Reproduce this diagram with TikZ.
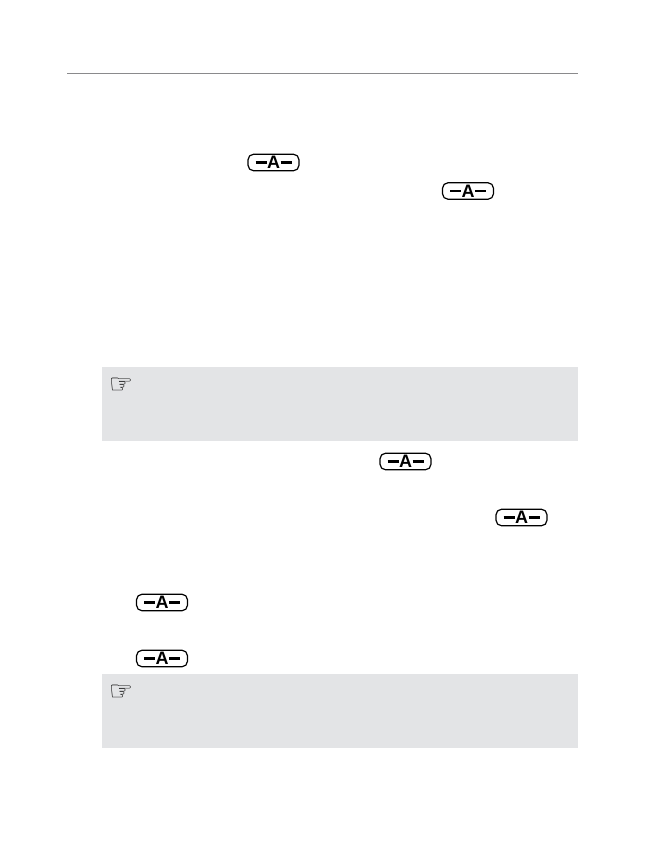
\documentclass[tikz,border=0pt]{standalone}
\usepackage{fontspec}
\setsansfont{Liberation Sans}
\newfontfamily\symbolfont{DejaVu Sans}
\definecolor{notegray}{HTML}{E3E4E6}
\definecolor{rulegray}{HTML}{8A8A8C}
\begin{document}
\begin{tikzpicture}[
        x=1pt, y=-1pt,
        key button/.style={draw, very thick, rounded corners=5.5pt, minimum width=51pt, minimum height=16.5pt, inner sep=0pt, font=\sffamily\bfseries\fontsize{18}{18}\selectfont,
            path picture={
                \draw[line width=2.6pt] ([xshift=7.5pt]path picture bounding box.west) -- ([xshift=-7pt]path picture bounding box.center);
                \draw[line width=2.6pt] ([xshift=7pt]path picture bounding box.center) -- ([xshift=-7.5pt]path picture bounding box.east);
            }},
        note box/.style={fill=notegray, draw=none, inner sep=0pt, minimum width=476pt, minimum height=74pt, anchor=north west},
        note hand/.style={inner sep=0pt, font=\symbolfont\fontsize{27}{27}\selectfont}
    ]
	\useasboundingbox (0,0) rectangle (647,846);
	\coordinate (rule_a) at (67,73);
	\coordinate (rule_b) at (578,73);
	\draw[rulegray, line width=1pt] (rule_a) -- (rule_b);

	\node[note box] (note_1) at (102,367) {};
	\node[note box] (note_2) at (102,674) {};
	\node[note hand] (hand_1) at (121,386) {\bfseries ☞};
	\node[note hand] (hand_2) at (121,693) {\bfseries ☞};

	\node[key button] (key_1) at (273.5,162.5) {A};
	\node[key button] (key_2) at (468,191) {A};
	\node[key button] (key_3) at (405.5,461.5) {A};
	\node[key button] (key_4) at (521.5,517.5) {A};
	\node[key button] (key_5) at (162,602.5) {A};
	\node[key button] (key_6) at (162,658.5) {A};
\end{tikzpicture}
\end{document}
